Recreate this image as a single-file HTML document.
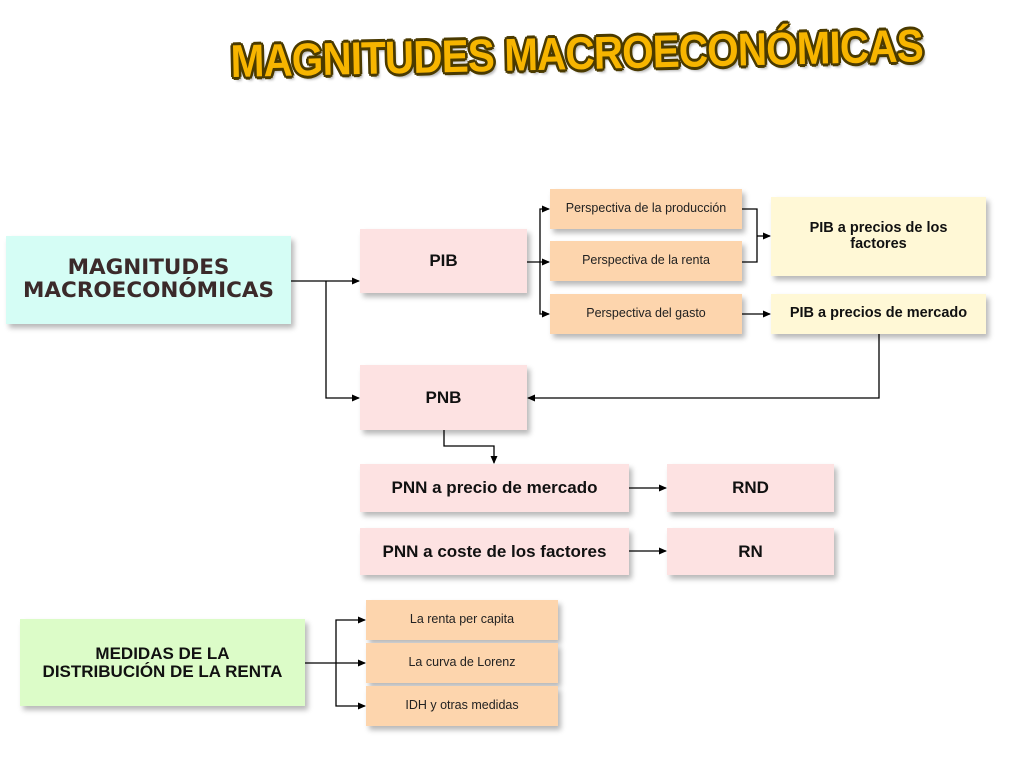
<!DOCTYPE html>
<html><head><meta charset="utf-8"><style>
body{margin:0;width:1024px;height:768px;background:#fff;position:relative;overflow:hidden;font-family:"Liberation Sans",Arial,sans-serif}
.b{position:absolute;display:flex;align-items:center;justify-content:center;text-align:center;font-weight:bold;color:#111;box-shadow:3px 4px 5px rgba(0,0,0,0.28);box-sizing:border-box;line-height:1.05}
.pk{background:#fde2e2;font-size:17px}
.or{background:#fdd5ad;font-size:12.5px;font-weight:normal;color:#222}
.yl{background:#fff8d6;font-size:14.5px}
svg{position:absolute;left:0;top:0}
.t{position:absolute;left:230px;top:34px;font-family:"Liberation Sans",sans-serif;font-weight:900;font-size:46px;color:#f7b500;letter-spacing:-1px;white-space:nowrap;transform:rotate(-1.3deg) scaleX(0.88);transform-origin:left top;
text-shadow:2px 2px 0 #4a3a00,-2px -2px 0 #4a3a00,2px -2px 0 #4a3a00,-2px 2px 0 #4a3a00,0 3px 0 #4a3a00,3px 0 0 #4a3a00,-3px 0 0 #4a3a00,0 -3px 0 #4a3a00,3px 4px 3px rgba(0,0,0,0.3)}
</style></head><body>
<div class="t">MAGNITUDES MACROECONÓMICAS</div>

<div class="b" style="left:6px;top:236px;width:285px;height:88px;background:#d5fdf5;font-family:'DejaVu Sans',sans-serif;font-size:21.5px;color:#3b2a2a">MAGNITUDES<br>MACROECONÓMICAS</div>
<div class="b pk" style="left:360px;top:229px;width:167px;height:64px">PIB</div>
<div class="b or" style="left:550px;top:189px;width:192px;height:40px">Perspectiva de la producción</div>
<div class="b or" style="left:550px;top:241px;width:192px;height:40px">Perspectiva de la renta</div>
<div class="b or" style="left:550px;top:294px;width:192px;height:40px">Perspectiva del gasto</div>
<div class="b yl" style="left:771px;top:197px;width:215px;height:79px">PIB a precios de los<br>factores</div>
<div class="b yl" style="left:771px;top:294px;width:215px;height:40px">PIB a precios de mercado</div>
<div class="b pk" style="left:360px;top:365px;width:167px;height:65px">PNB</div>
<div class="b pk" style="left:360px;top:464px;width:269px;height:48px">PNN a precio de mercado</div>
<div class="b pk" style="left:667px;top:464px;width:167px;height:48px">RND</div>
<div class="b pk" style="left:360px;top:528px;width:269px;height:47px">PNN a coste de los factores</div>
<div class="b pk" style="left:667px;top:528px;width:167px;height:47px">RN</div>
<div class="b" style="left:20px;top:619px;width:285px;height:87px;background:#dcfcc8;font-size:17px">MEDIDAS DE LA<br>DISTRIBUCIÓN DE LA RENTA</div>
<div class="b or" style="left:366px;top:600px;width:192px;height:40px">La renta per capita</div>
<div class="b or" style="left:366px;top:643px;width:192px;height:40px">La curva de Lorenz</div>
<div class="b or" style="left:366px;top:686px;width:192px;height:40px">IDH y otras medidas</div>

<svg width="1024" height="768">
<defs><marker id="a" markerWidth="8" markerHeight="8" refX="7" refY="4" orient="auto" markerUnits="userSpaceOnUse"><path d="M0,0.5 L8,4 L0,7.5z" fill="#000"/></marker></defs>
<g stroke="#000" stroke-width="1.3" fill="none">
<path d="M291,281 H359" marker-end="url(#a)"/>
<path d="M326,281 V398 H359" marker-end="url(#a)"/>
<path d="M527,262 H549" marker-end="url(#a)"/>
<path d="M540,262 V209 H549" marker-end="url(#a)"/>
<path d="M540,262 V314 H549" marker-end="url(#a)"/>
<path d="M742,209 H757 V262 H742"/>
<path d="M757,236 H770" marker-end="url(#a)"/>
<path d="M742,314 H770" marker-end="url(#a)"/>
<path d="M879,334 V398 H528" marker-end="url(#a)"/>
<path d="M444,430 V446 H494 V463" marker-end="url(#a)"/>
<path d="M629,488 H666" marker-end="url(#a)"/>
<path d="M629,551 H666" marker-end="url(#a)"/>
<path d="M305,663 H365" marker-end="url(#a)"/>
<path d="M336,663 V620 H365" marker-end="url(#a)"/>
<path d="M336,663 V706 H365" marker-end="url(#a)"/>
</g></svg>
</body></html>
